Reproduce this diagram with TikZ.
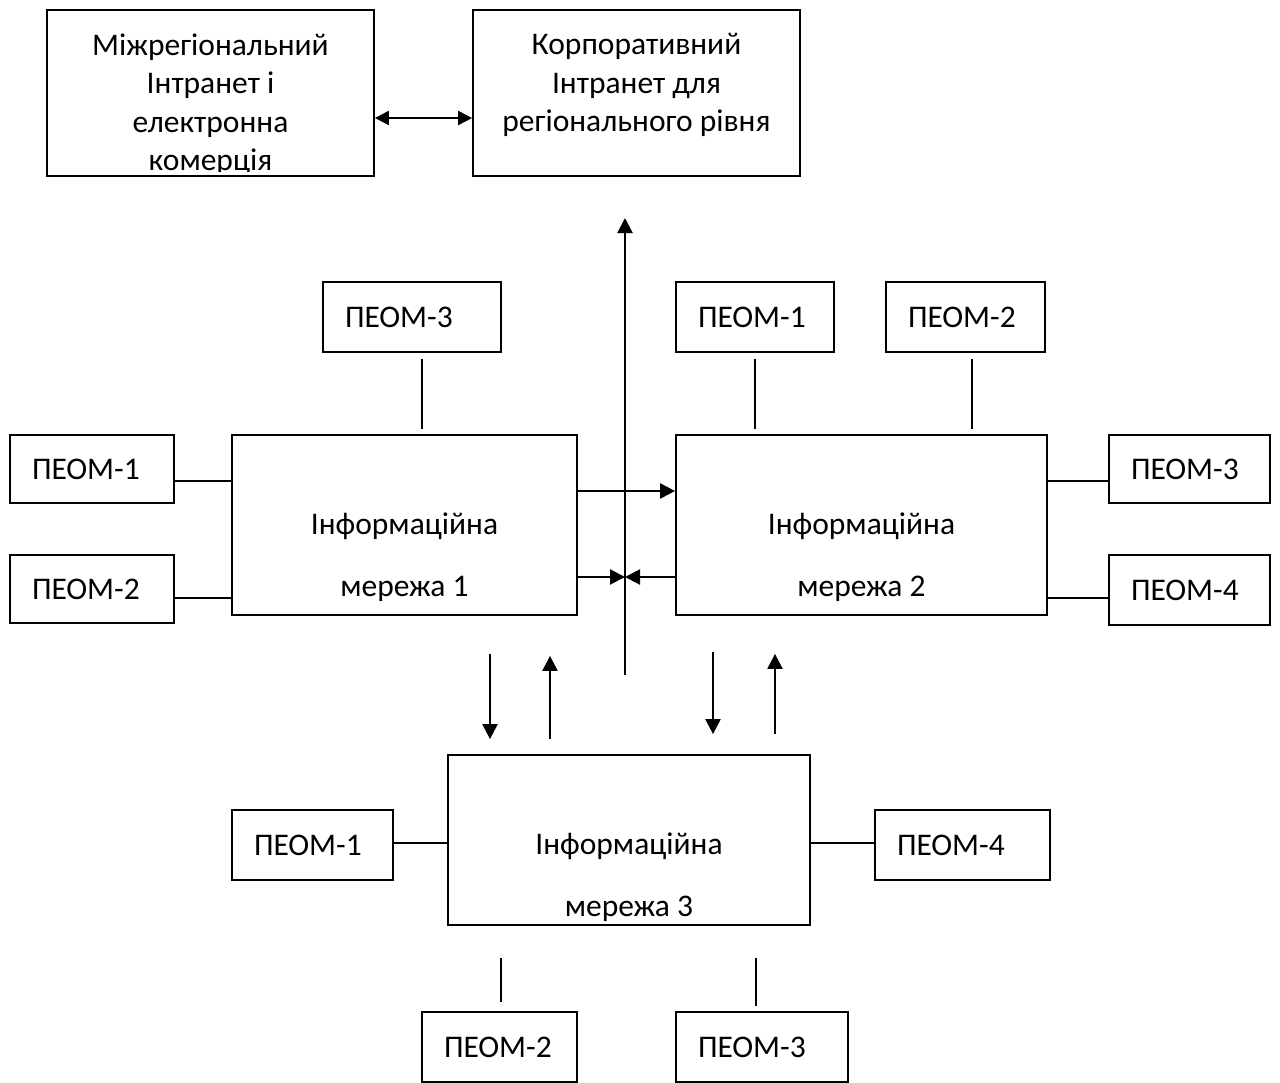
\documentclass[tikz,border=0pt]{standalone}
\usepackage{fontspec}
\setmainfont{Carlito}
\usetikzlibrary{arrows.meta}
\tikzset{
  box/.style={draw, line width=1.8pt, inner sep=0pt},
  pc/.style={box, minimum height=70pt, inner xsep=22pt, text width=#1, align=left},
  net/.style={box, minimum width=#1, minimum height=180pt},
  nettext/.style={align=center, font=\fontsize{31.5}{62}\selectfont},
  link/.style={line width=1.8pt},
  arr/.style={line width=2.2pt, -{Triangle[length=15pt,width=15pt]}},
  dblarr/.style={line width=2.2pt, {Triangle[length=14pt,width=14pt]}-{Triangle[length=14pt,width=14pt]}},
}
\begin{document}
\begin{tikzpicture}[x=1pt, y=-1pt, font=\fontsize{31.5}{38.5}\selectfont]
\useasboundingbox (0,0) rectangle (1280,1082);

% upper level
\node[box, minimum width=327pt, minimum height=166pt] (mreg) at (210.5,93) {};
\node[box, minimum width=327pt, minimum height=166pt] (corp) at (636.5,93) {};
\begin{scope}
  \clip ([yshift=5pt]mreg.south west) rectangle (mreg.north east);
  \node[align=center, anchor=north] (mregtxt) at ([yshift=-21pt]mreg.north) {Міжрегіональний\\Інтранет і\\електронна\\комерція};
\end{scope}
\node[align=center, anchor=north] (corptxt) at ([yshift=-21pt]corp.north) {Корпоративний\\Інтранет для\\регіонального рівня};
\draw[dblarr] (mreg.east |- 0,118) -- (corp.west |- 0,118);

% network 1
\node[net=345pt] (net1) at (404.5,525) {};
\node[nettext] (net1txt) at ([yshift=-32pt]net1.center) {Інформаційна\\мережа 1};
\node[pc=134pt] (p13) at (412,317) {ПЕОМ-3};
\node[pc=120pt, minimum height=68pt] (p11) at (92,469) {ПЕОМ-1};
\node[pc=120pt, minimum height=68pt] (p12) at (92,589) {ПЕОМ-2};
\draw[link, shorten <=6pt, shorten >=5pt] (p13.south -| 422,0) -- (net1.north -| 422,0);
\draw[link] (p11.east |- 0,481) -- (net1.west |- 0,481);
\draw[link] (p12.east |- 0,598) -- (net1.west |- 0,598);

% network 2
\node[net=371pt] (net2) at (861.5,525) {};
\node[nettext] (net2txt) at ([yshift=-32pt]net2.center) {Інформаційна\\мережа 2};
\node[pc=114pt] (p21) at (755,317) {ПЕОМ-1};
\node[pc=115pt] (p22) at (965.5,317) {ПЕОМ-2};
\node[pc=117pt, minimum height=68pt] (p23) at (1189.5,469) {ПЕОМ-3};
\node[pc=117pt] (p24) at (1189.5,590) {ПЕОМ-4};
\draw[link, shorten <=6pt, shorten >=5pt] (p21.south) -- (p21.south |- net2.north);
\draw[link, shorten <=6pt, shorten >=5pt] (p22.south -| 972,0) -- (net2.north -| 972,0);
\draw[link] (net2.east |- 0,481) -- (p23.west |- 0,481);
\draw[link] (net2.east |- 0,598) -- (p24.west |- 0,598);

% links between networks
\coordinate (bus0) at (625,675);
\coordinate (bus1) at (625,218);
\draw[arr] (bus0) -- (bus1);
\draw[arr] (net1.east |- 0,491) -- (net2.west |- 0,491);
\draw[arr] (net1.east |- 0,577) -- (bus0 |- 0,577);
\draw[arr] (net2.west |- 0,577) -- (bus0 |- 0,577);

% network 3
\node[net=362pt, minimum height=170pt] (net3) at (629,840) {};
\node[nettext] (net3txt) at ([yshift=-37pt]net3.center) {Інформаційна\\мережа 3};
\node[pc=117pt] (p31) at (312.5,845) {ПЕОМ-1};
\node[pc=131pt] (p34) at (962.5,845) {ПЕОМ-4};
\node[pc=111pt] (p32) at (499.5,1047) {ПЕОМ-2};
\node[pc=128pt] (p33) at (762,1047) {ПЕОМ-3};
\draw[link] (p31.east |- 0,843) -- (net3.west |- 0,843);
\draw[link] (net3.east |- 0,843) -- (p34.west |- 0,843);
\draw[link, shorten <=32pt, shorten >=9pt] (net3.south -| 501,0) -- (p32.north -| 501,0);
\draw[link, shorten <=32pt, shorten >=5pt] (net3.south -| 756,0) -- (p33.north -| 756,0);

\draw[arr, shorten <=38pt, shorten >=15pt] (net1.south -| 490,0) -- (net3.north -| 490,0);
\draw[arr, shorten <=15pt, shorten >=40pt] (net3.north -| 550,0) -- (net1.south -| 550,0);
\draw[arr, shorten <=36pt, shorten >=20pt] (net2.south -| 713,0) -- (net3.north -| 713,0);
\draw[arr, shorten <=20pt, shorten >=38pt] (net3.north -| 775,0) -- (net2.south -| 775,0);
\end{tikzpicture}
\end{document}
